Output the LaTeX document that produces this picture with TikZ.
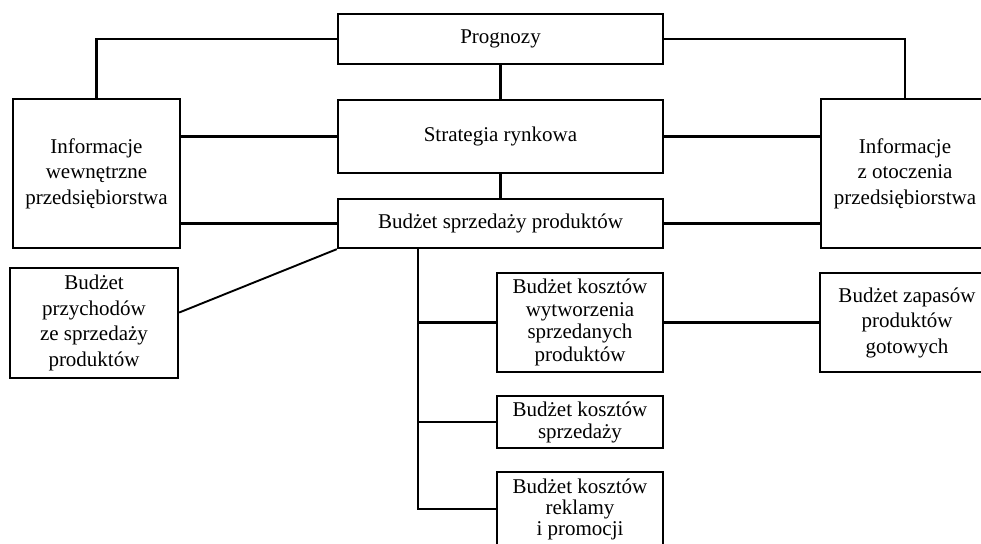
\documentclass[tikz,border=0pt]{standalone}
\usepackage{fontspec}
\setmainfont{Liberation Serif}
\begin{document}
\begin{tikzpicture}[x=1pt,y=-1pt,
  box/.style={draw,line width=2.3pt,inner sep=0pt,align=center,
    font=\fontsize{21}{25.5}\selectfont},
  conn/.style={line width=2.3pt},
  lk/.style={line width=1.9pt}]
\clip (0,0) rectangle (981,543);
\fill[white] (0,0) rectangle (981,543);
\node[box,minimum width=325,minimum height=50] (prog) at (500.5,39) {Prognozy};
\node[box,minimum width=325,minimum height=73] (strat) at (500.5,136.5) {Strategia rynkowa};
\node[box,minimum width=325,minimum height=49] (bs) at (500.5,223.5) {Budżet sprzedaży produktów};
\node[box,minimum width=167,minimum height=149] (linf) at (96.5,173.5) {Informacje\\wewnętrzne\\przedsiębiorstwa};
\node[box,minimum width=168,minimum height=149] (rinf) at (905,173.5) {Informacje\\z otoczenia\\przedsiębiorstwa};
\node[box,minimum width=168,minimum height=110] (prz) at (94,323) {Budżet\\przychodów\\ze sprzedaży\\produktów};
\node[box,minimum width=166,minimum height=99,font=\fontsize{21}{22.5}\selectfont] (wyt) at (580,322.5) {Budżet kosztów\\wytworzenia\\sprzedanych\\produktów};
\node[box,minimum width=166,minimum height=52,font=\fontsize{21}{22}\selectfont] (spr) at (580,422) {Budżet kosztów\\sprzedaży};
\node[box,minimum width=166,minimum height=74,font=\fontsize{21}{21}\selectfont] (rek) at (580,509) {Budżet kosztów\\reklamy\\i promocji};
\node[box,minimum width=174,minimum height=99,font=\fontsize{21}{25.5}\selectfont] (zap) at (907,322.5) {Budżet zapasów\\produktów\\gotowych};
\coordinate (trunk) at (418,0);
% connectors
\draw[conn] (prog.west) -| (linf.north);
\draw[conn] (prog.east) -| (rinf.north);
\draw[conn] (prog.south) -- (strat.north);
\draw[conn] (strat.south) -- (bs.north);
\draw[conn] (strat.west) -- (linf.east |- strat.west);
\draw[conn] (strat.east) -- (rinf.west |- strat.east);
\draw[conn] (bs.west) -- (linf.east |- bs.west);
\draw[conn] (bs.east) -- (rinf.west |- bs.east);
\draw[lk] (prz.7.5) -- (bs.south west);
\draw[conn] (bs.south -| trunk) -- (trunk |- rek.west) -- (rek.west);
\draw[conn] (wyt.west -| trunk) -- (wyt.west);
\draw[conn] (spr.west -| trunk) -- (spr.west);
\draw[conn] (wyt.east) -- (zap.west);
\end{tikzpicture}
\end{document}
